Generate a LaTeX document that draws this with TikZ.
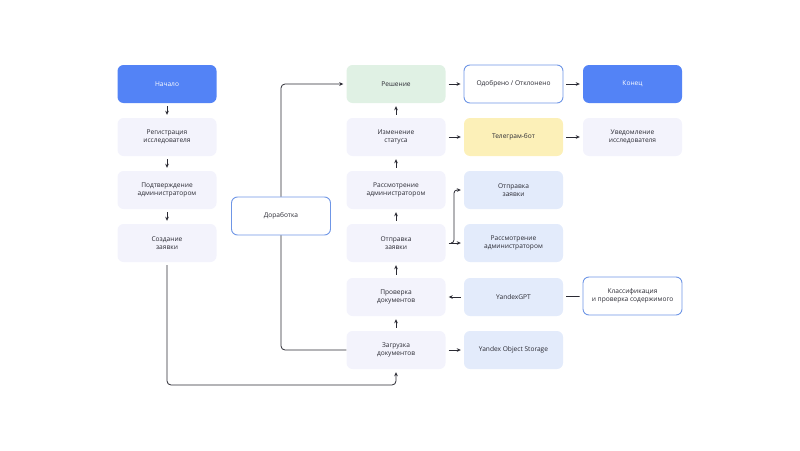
\documentclass[tikz,border=0pt]{standalone}
\usepackage{fontspec}
\setmainfont{Open Sans}
\usetikzlibrary{arrows.meta, positioning}
\definecolor{yblue}{HTML}{5383F6}
\definecolor{lav}{HTML}{F3F3FC}
\definecolor{sky}{HTML}{E3EBFB}
\definecolor{mint}{HTML}{E0F1E4}
\definecolor{sand}{HTML}{FCF0B8}
\definecolor{edge}{HTML}{6F96E6}
\definecolor{ink}{HTML}{2A2A33}

\begin{document}
\begin{tikzpicture}[
    x=1pt, y=-1pt,
    box/.style={rectangle, rounded corners=6pt, minimum width=99pt, minimum height=38pt, align=center, font=\fontsize{6.6}{8.5}\selectfont, text=ink},
    framed/.style={box, fill=white, draw=edge, line width=0.9pt},
    arrow/.style={-{Stealth[length=4pt, width=3.6pt]}, line width=0.8pt, draw=ink, shorten >=3pt, shorten <=3pt},
    link/.style={line width=0.8pt, draw=ink}
]
    \useasboundingbox (0,0) rectangle (800,450);

    % left column
    \node[box, fill=yblue, text=white] (start) at (167,84) {Начало};
    \node[box, fill=lav] (register) at (167,137) {Регистрация\\исследователя};
    \node[box, fill=lav] (confirm) at (167,190) {Подтверждение\\администратором};
    \node[box, fill=lav] (create) at (167,243) {Создание\\заявки};

    \node[framed] (rework) at (281,216) {Доработка};

    % middle column
    \node[box, fill=mint] (decision) at (396,84) {Решение};
    \node[box, fill=lav] (status) at (396,137) {Изменение\\статуса};
    \node[box, fill=lav] (review) at (396,190) {Рассмотрение\\администратором};
    \node[box, fill=lav] (send) at (396,243) {Отправка\\заявки};
    \node[box, fill=lav] (check) at (396,297) {Проверка\\документов};
    \node[box, fill=lav] (upload) at (396,350) {Загрузка\\документов};

    % right columns
    \node[framed] (verdict) at (513.5,84) {Одобрено / Отклонено};
    \node[box, fill=sand] (bot) at (513.5,137) {Телеграм-бот};
    \node[box, fill=sky] (sendapp) at (513.5,190) {Отправка\\заявки};
    \node[box, fill=sky] (review2) at (513.5,243) {Рассмотрение\\администратором};
    \node[box, fill=sky] (gpt) at (513.5,297) {YandexGPT};
    \node[box, fill=sky] (storage) at (513.5,350) {Yandex Object Storage};

    \node[box, fill=yblue, text=white] (finish) at (632.5,84) {Конец};
    \node[box, fill=lav] (notify) at (632.5,137) {Уведомление\\исследователя};
    \node[framed] (classify) at (632.5,296) {Классификация\\и проверка содержимого};

    \draw[arrow] (start) -- (register);
    \draw[arrow] (register) -- (confirm);
    \draw[arrow] (confirm) -- (create);
    \draw[arrow, rounded corners=4pt] (create.south) -- (create |- 0,385) -| (upload.south);

    \draw[link, rounded corners=4pt] (upload.west) -| (rework.south);
    \draw[arrow, shorten <=0pt, rounded corners=4pt] (rework.north) |- (decision.west);

    \draw[arrow] (upload) -- (check);
    \draw[arrow] (check) -- (send);
    \draw[arrow] (send) -- (review);
    \draw[arrow] (review) -- (status);
    \draw[arrow] (status) -- (decision);

    \draw[arrow] (decision) -- (verdict);
    \draw[arrow] (verdict) -- (finish);
    \draw[arrow] (status) -- (bot);
    \draw[arrow] (bot) -- (notify);

    \coordinate (split) at (451,243);
    \draw[arrow] (send) -- (review2);
    \draw[arrow, shorten <=0pt, rounded corners=3pt] (split) -| (454,220) |- (sendapp.west);
    \draw[arrow] (gpt) -- (check);
    \draw[link, shorten <=3pt, shorten >=3pt] (gpt) -- (classify);
    \draw[arrow] (upload) -- (storage);
\end{tikzpicture}
\end{document}
